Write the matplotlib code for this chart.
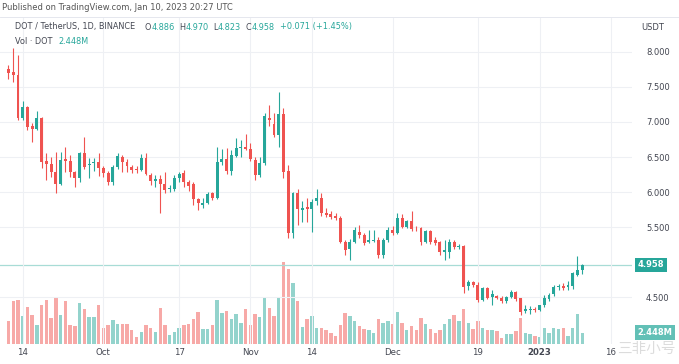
import matplotlib
matplotlib.use('Agg')
import matplotlib.pyplot as plt
import matplotlib.dates as mdates
import numpy as np
import pandas as pd

dates = pd.date_range('2022-09-11', '2023-01-10', freq='D')

opens = [7.76, 7.71, 7.67, 7.06, 7.21, 6.94, 6.90, 7.06, 6.45, 6.40, 6.29, 6.11, 6.47, 6.44, 6.28, 6.20, 6.56, 6.38, 6.41, 6.43,
         6.34, 6.27, 6.14, 6.36, 6.50, 6.43, 6.36, 6.33, 6.31, 6.49, 6.24, 6.16, 6.18, 6.12, 6.04, 6.05, 6.20, 6.27, 6.15, 6.11,
         5.90, 5.82, 5.85, 5.98, 5.92, 6.43, 6.47, 6.30, 6.52, 6.63, 6.65,
         6.62, 6.46, 6.25, 6.41, 7.06, 6.97, 6.81, 7.11, 6.30, 5.41, 5.98, 5.75, 5.78, 5.76, 5.87, 5.92, 5.70, 5.69, 5.66, 5.63,
         5.29, 5.19, 5.29, 5.43, 5.39, 5.28, 5.30, 5.31, 5.10, 5.31,
         5.46, 5.42, 5.63, 5.50, 5.59, 5.49, 5.49, 5.29, 5.44, 5.31, 5.28, 5.15, 5.14, 5.29, 5.21, 5.23, 4.66, 4.71, 4.67, 4.46,
         4.63, 4.50, 4.51, 4.49, 4.44, 4.50, 4.57, 4.48, 4.30, 4.31, 4.33,
         4.32, 4.38, 4.47, 4.54, 4.64, 4.66, 4.64, 4.66, 4.82, 4.886]
highs = [7.82, 8.06, 7.96, 7.30, 7.23, 6.99, 7.16, 7.07, 6.56, 6.50, 6.57, 6.57, 6.64, 6.53, 6.30, 6.57, 6.79, 6.49, 6.49, 6.56,
         6.37, 6.30, 6.38, 6.56, 6.53, 6.47, 6.39, 6.37, 6.55, 6.56, 6.27, 6.24, 6.24, 6.29, 6.10, 6.24, 6.29, 6.31, 6.17, 6.14,
         5.92, 5.91, 6.00, 6.00, 6.64, 6.62, 6.63, 6.60, 6.77, 6.74, 6.83,
         6.70, 6.50, 6.50, 7.13, 7.24, 7.13, 7.43, 7.20, 6.39, 6.00, 6.04, 5.87, 5.91, 5.90, 6.04, 5.98, 5.77, 5.73, 5.70, 5.66,
         5.31, 5.33, 5.50, 5.53, 5.42, 5.46, 5.46, 5.36, 5.34, 5.50,
         5.51, 5.70, 5.69, 5.60, 5.73, 5.52, 5.50, 5.46, 5.46, 5.36, 5.30, 5.31, 5.33, 5.31, 5.26, 5.25, 4.74, 4.73, 4.71, 4.64,
         4.64, 4.60, 4.53, 4.51, 4.52, 4.60, 4.59, 4.49, 4.38, 4.37, 4.36,
         4.39, 4.53, 4.56, 4.67, 4.69, 4.70, 4.73, 4.86, 5.08, 4.970]
lows = [7.62, 7.57, 7.03, 7.03, 6.89, 6.71, 6.89, 6.34, 6.17, 6.21, 5.98, 6.10, 6.29, 6.21, 6.07, 6.15, 6.33, 6.20, 6.30, 6.23,
        6.22, 6.10, 6.10, 6.33, 6.29, 6.29, 6.27, 6.27, 6.30, 6.24, 6.10, 6.07, 5.70, 5.99, 6.00, 6.02, 6.14, 6.07, 6.02, 5.81,
        5.74, 5.77, 5.83, 5.88, 5.90, 6.38, 6.26, 6.25, 6.50, 6.50, 6.60,
        6.44, 6.17, 6.22, 6.38, 6.94, 6.78, 6.64, 6.20, 5.34, 5.34, 5.53, 5.57, 5.57, 5.43, 5.82, 5.66, 5.64, 5.62, 5.60, 5.27,
        5.10, 5.03, 5.27, 5.34, 5.25, 5.27, 5.28, 5.06, 5.06, 5.29,
        5.38, 5.40, 5.48, 5.48, 5.45, 5.44, 5.24, 5.27, 5.26, 5.25, 5.10, 5.03, 5.06, 5.19, 5.18, 4.56, 4.60, 4.64, 4.43, 4.44,
        4.47, 4.39, 4.47, 4.42, 4.42, 4.48, 4.45, 4.24, 4.27, 4.26, 4.29,
        4.30, 4.36, 4.44, 4.52, 4.60, 4.60, 4.60, 4.61, 4.80, 4.823]
closes = [7.70, 7.67, 7.06, 7.21, 6.93, 6.90, 7.06, 6.43, 6.40, 6.29, 6.11, 6.46, 6.44, 6.28, 6.20, 6.56, 6.36, 6.40, 6.43, 6.34,
          6.27, 6.14, 6.36, 6.51, 6.43, 6.37, 6.32, 6.31, 6.49, 6.26, 6.16, 6.18, 6.11, 6.03, 6.06, 6.20, 6.26, 6.15, 6.09, 5.90,
          5.85, 5.85, 5.97, 5.92, 6.43, 6.47, 6.30, 6.53, 6.63, 6.65, 6.62,
          6.47, 6.24, 6.41, 7.09, 7.03, 6.81, 7.11, 6.29, 5.41, 5.99, 5.76, 5.77, 5.76, 5.86, 5.92, 5.70, 5.67, 5.65, 5.63, 5.29,
          5.17, 5.29, 5.46, 5.39, 5.27, 5.31, 5.32, 5.10, 5.31, 5.46,
          5.42, 5.63, 5.50, 5.59, 5.47, 5.48, 5.29, 5.44, 5.28, 5.27, 5.14, 5.17, 5.29, 5.21, 5.23, 4.64, 4.71, 4.67, 4.46, 4.63,
          4.49, 4.54, 4.49, 4.44, 4.50, 4.57, 4.47, 4.29, 4.33, 4.33, 4.32,
          4.38, 4.48, 4.53, 4.64, 4.66, 4.63, 4.67, 4.84, 4.887, 4.958]
volumes_m = [4.9, 9.2, 9.4, 6.0, 7.9, 6.2, 4.0, 8.3, 9.4, 5.5, 10.0, 6.2, 9.2, 4.0, 3.8, 8.7, 7.5, 5.8, 5.8, 8.3,
             3.4, 4.0, 5.1, 4.3, 4.3, 4.3, 3.0, 1.5, 2.6, 4.0, 3.4, 2.6, 7.7, 4.0, 1.9, 2.6, 3.4, 4.0, 4.3, 5.3,
             6.8, 3.2, 3.2, 4.0, 9.4, 6.6, 7.0, 5.3, 6.4, 4.5, 7.5,
             4.0, 6.4, 5.8, 9.8, 7.7, 6.0, 9.8, 17.5, 16.0, 13.0, 9.2, 3.6, 5.3, 6.0, 3.4, 3.4, 3.0, 2.3, 1.7, 4.0,
             6.6, 6.0, 4.9, 3.8, 3.2, 3.0, 2.3, 5.3, 4.5, 4.9,
             4.3, 6.8, 4.5, 3.0, 3.8, 3.0, 5.5, 4.3, 3.2, 2.3, 3.0, 4.3, 5.3, 6.2, 4.9, 7.5, 4.5, 3.2, 4.9, 3.4,
             3.0, 3.0, 2.8, 1.3, 2.1, 2.1, 2.8, 5.5, 2.3, 2.1, 1.7,
             1.5, 3.4, 2.3, 3.4, 3.2, 3.4, 1.7, 3.4, 6.4, 2.448]

price_ticks = [4.5, 5.5, 6.0, 6.5, 7.0, 7.5, 8.0]
time_ticks = ['2022-09-14', '2022-10-01', '2022-10-17', '2022-11-01', '2022-11-14',
              '2022-12-01', '2022-12-19', '2023-01-01', '2023-01-16']
time_labels = ['14', 'Oct', '17', 'Nov', '14', 'Dec', '19', '2023', '16']

UP = '#26a69a'
DOWN = '#ef5350'
VUP = '#93d3cc'
VDOWN = '#f7a9a7'
TXT = '#434651'
GRID = '#eef0f4'

W, H = 679, 364
fig = plt.figure(figsize=(W / 100, H / 100), dpi=100)
fig.patch.set_facecolor('white')
ax = fig.add_axes([0, 20 / H, 632 / W, 326 / H])
axv = ax.twinx()
ax.set_zorder(axv.get_zorder() + 1)
ax.patch.set_visible(False)

x = mdates.date2num(dates)
o = np.array(opens); h = np.array(highs); l = np.array(lows); c = np.array(closes)
up = c >= o
cols = np.where(up, UP, DOWN)
vcols = np.where(up, VUP, VDOWN)

axv.bar(x, volumes_m, width=0.72, color=vcols, linewidth=0)
axv.set_ylim(0, 69.4)
axv.set_yticks([])
axv.grid(False)

ax.vlines(x, l, h, colors=cols, linewidth=0.8)
body_lo = np.minimum(o, c)
body_h = np.maximum(np.abs(c - o), 0.012)
ax.bar(x, body_h, bottom=body_lo, width=0.62, color=cols, linewidth=0)

ax.set_xlim(x[0] - 1.79, x[-1] + 10.5)
ax.set_ylim(3.8286, 8.4857)

ax.axhline(closes[-1], color='#a8dcd6', linewidth=0.9, zorder=0.5)

ax.set_yticks(price_ticks)
ax.set_yticklabels(['%.3f' % v for v in price_ticks])
ax.yaxis.tick_right()
ax.tick_params(axis='y', length=0, pad=10, labelsize=6, labelcolor=TXT)
tt = mdates.date2num(pd.to_datetime(time_ticks))
ax.set_xticks(tt)
ax.set_xticklabels(time_labels)
ax.tick_params(axis='x', length=0, pad=3, labelsize=6.2, labelcolor=TXT)
for lab in ax.get_xticklabels():
    if lab.get_text() == '2023':
        lab.set_fontweight('bold')
ax.grid(True, color=GRID, linewidth=0.8)
ax.set_axisbelow(True)
for sp in list(ax.spines.values()) + list(axv.spines.values()):
    sp.set_visible(False)

# last value labels
ax.annotate('%.3f' % closes[-1], xy=(1, closes[-1]), xycoords=('axes fraction', 'data'),
            xytext=(4, 0), textcoords='offset points', ha='left', va='center',
            fontsize=6, color='white', fontweight='bold',
            bbox=dict(boxstyle='square,pad=0.35', fc=UP, ec='none'), annotation_clip=False)
axv.annotate('%.3fM' % volumes_m[-1], xy=(1, volumes_m[-1]), xycoords=('axes fraction', 'data'),
             xytext=(4, 0), textcoords='offset points', ha='left', va='center',
             fontsize=6, color='white', fontweight='bold',
             bbox=dict(boxstyle='square,pad=0.35', fc='#62c0b6', ec='none'), annotation_clip=False)

# header texts
fig.text(2 / W, 1 - 8 / H, 'Published on TradingView.com, Jan 10, 2023 20:27 UTC',
         fontsize=6, color='#555555', va='center', ha='left')
fig.add_artist(plt.Line2D([0, 1], [1 - 17 / H, 1 - 17 / H], color='#e0e3eb', linewidth=0.6))


def chain_parts(parts, x0, y0, size):
    prev = fig.text(x0, y0, parts[0][0], color=parts[0][1], fontsize=size, va='center', ha='left')
    for s, col, gap in parts[1:]:
        prev = ax.annotate(s, xy=(1, 0), xycoords=prev, xytext=(gap, 0), textcoords='offset points',
                           color=col, fontsize=size, va='bottom', ha='left', annotation_clip=False)
    return prev


chain_parts([('DOT / TetherUS, 1D, BINANCE', TXT), ('O', TXT, 7), ('4.886', UP, 0), ('H', TXT, 3.5), ('4.970', UP, 0),
             ('L', TXT, 3.5), ('4.823', UP, 0), ('C', TXT, 3.5), ('4.958', UP, 0), ('+0.071 (+1.45%)', UP, 3.5)],
            15 / W, 1 - 27 / H, 5.9)
chain_parts([('Vol · DOT', TXT), ('2.448M', UP, 4)], 15 / W, 1 - 41 / H, 5.9)
fig.text(641 / W, 1 - 27 / H, 'USDT', fontsize=6, color=TXT, va='center', ha='left')

fig.text(646 / W, 1 - 349 / H, '三非小号', fontsize=10.5, color='#d4d4d4', alpha=0.8,
         family=['Noto Sans CJK SC', 'DejaVu Sans'], va='center', ha='center')

fig.savefig('out.png', dpi=100, facecolor='white')
